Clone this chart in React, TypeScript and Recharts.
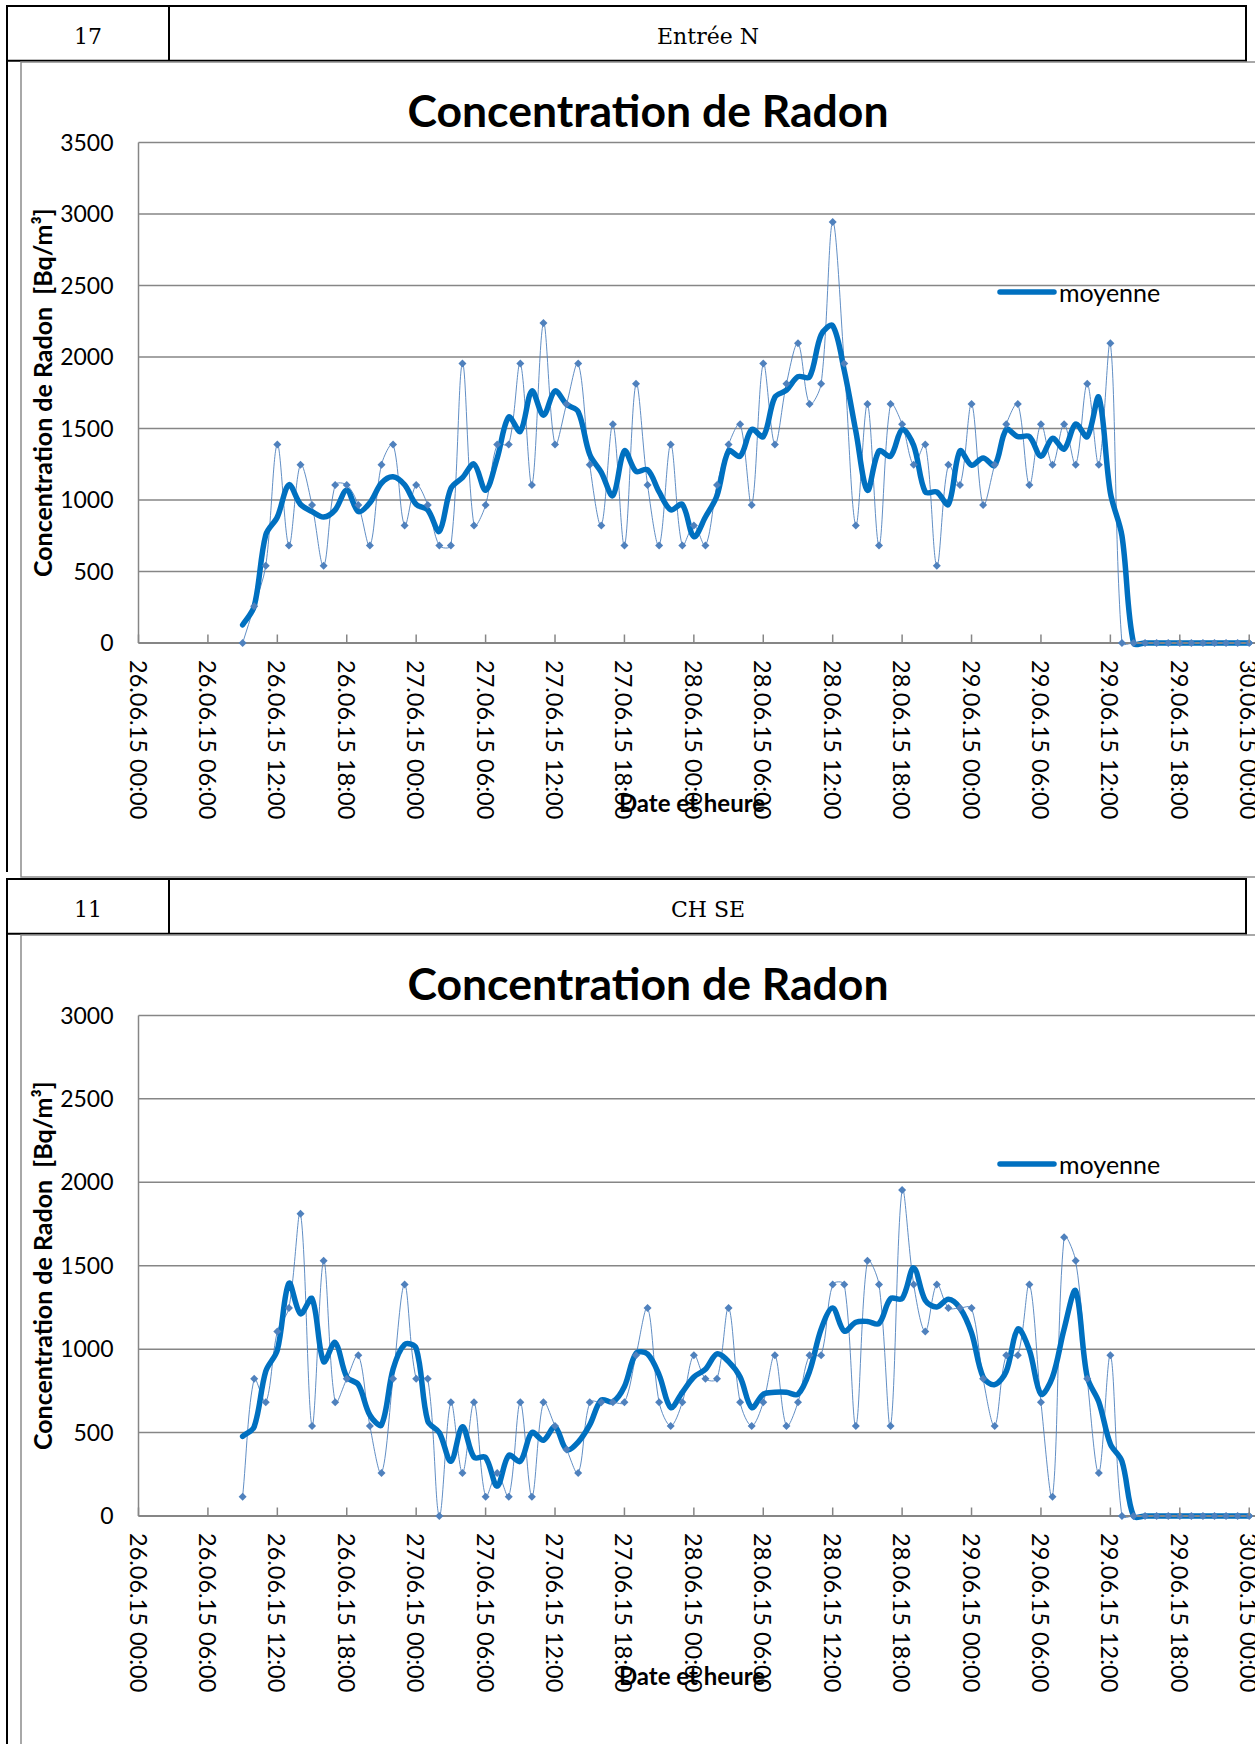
import React from 'react';
import { LineChart, Line, XAxis, YAxis, CartesianGrid, Legend } from 'recharts';

// hourly readings, first value at 26.06.15 09:00
const START_HOUR = 9;

const timeTicks = [0, 6, 12, 18, 24, 30, 36, 42, 48, 54, 60, 66, 72, 78, 84, 90, 96];
const timeLabels = [
  '26.06.15 00:00', '26.06.15 06:00', '26.06.15 12:00', '26.06.15 18:00',
  '27.06.15 00:00', '27.06.15 06:00', '27.06.15 12:00', '27.06.15 18:00',
  '28.06.15 00:00', '28.06.15 06:00', '28.06.15 12:00', '28.06.15 18:00',
  '29.06.15 00:00', '29.06.15 06:00', '29.06.15 12:00', '29.06.15 18:00',
  '30.06.15 00:00',
];

const entreeTicks = [0, 500, 1000, 1500, 2000, 2500, 3000, 3500];
const chseTicks = [0, 500, 1000, 1500, 2000, 2500, 3000];

const entreeRaw = [
  0, 257, 540, 1388, 681, 1247, 964, 540, 1105, 1105, 964, 681, 1247, 1388, 822, 1105,
  964, 681, 681, 1954, 822, 964, 1388, 1388, 1954, 1105, 2237, 1388, 1671, 1954, 1247, 822,
  1530, 681, 1812, 1105, 681, 1388, 681, 822, 681, 1105, 1388, 1530, 964, 1954, 1388, 1812,
  2095, 1671, 1812, 2944, 1954, 822, 1671, 681, 1671, 1530, 1247, 1388, 540, 1247, 1105, 1671,
  964, 1247, 1530, 1671, 1105, 1530, 1247, 1530, 1247, 1812, 1247, 2095,
  0, 0, 0, 0, 0, 0, 0, 0, 0, 0, 0, 0,
];
const entreeMoyenne = [
  127, 257, 756, 881, 1106, 969, 919, 881, 931, 1068, 919, 981, 1118, 1163, 1106, 969,
  931, 781, 1081, 1156, 1251, 1068, 1293, 1580, 1480, 1762, 1593, 1762, 1668, 1618, 1318, 1193,
  1031, 1343, 1200, 1211, 1056, 931, 969, 744, 881, 1031, 1343, 1306, 1493, 1443, 1718, 1768,
  1862, 1860, 2155, 2218, 1905, 1480, 1068, 1343, 1306, 1493, 1381, 1056, 1056, 969, 1343, 1243,
  1293, 1243, 1493, 1443, 1443, 1306, 1431, 1356, 1531, 1443, 1718, 1050, 750,
  0, 0, 0, 0, 0, 0, 0, 0, 0, 0, 0,
];

const chseRaw = [
  116, 822, 681, 1105, 1247, 1812, 540, 1530, 681, 822, 964, 540, 257, 822, 1388, 822,
  822, 0, 681, 257, 681, 116, 257, 116, 681, 116, 681, 540, 398, 257, 681, 681,
  681, 681, 964, 1247, 681, 540, 681, 964, 822, 822, 1247, 681, 540, 681, 964, 540,
  681, 964, 964, 1388, 1388, 540, 1530, 1388, 540, 1954, 1388, 1105, 1388, 1247, 1247, 1247,
  822, 540, 964, 964, 1388, 681, 116, 1671, 1530, 822, 257, 964,
  0, 0, 0, 0, 0, 0, 0, 0, 0, 0, 0, 0,
];
const chseMoyenne = [
  477, 535, 867, 994, 1395, 1212, 1303, 925, 1040, 833, 787, 604, 546, 879, 1028, 1005,
  569, 500, 328, 535, 351, 351, 179, 363, 328, 500, 454, 535, 397, 443, 546, 695,
  684, 776, 975, 971, 845, 650, 741, 833, 879, 971, 925, 833, 650, 730, 741, 741,
  730, 867, 1120, 1246, 1108, 1161, 1166, 1154, 1303, 1303, 1487, 1292, 1253, 1299, 1246, 1097,
  833, 787, 867, 1120, 994, 730, 833, 1120, 1349, 833, 684, 431, 328,
  0, 0, 0, 0, 0, 0, 0, 0, 0, 0, 0,
];

const GRID = '#868686';
const RAW = '#4F81BD';
const AVG = '#0070C0';
const SANS = 'Lato, "Open Sans", sans-serif';
const SERIF = '"DejaVu Serif", "Liberation Serif", serif';

// Excel style smoothed line: tangents weighted by segment length, so flat runs stay flat
const excelSmooth = (context: any) => {
  let pts: number[][] = [];
  const dist = (a: number[], b: number[]) => Math.hypot(b[0] - a[0], b[1] - a[1]);
  return {
    areaStart() {},
    areaEnd() {},
    lineStart() {
      pts = [];
    },
    point(x: number, y: number) {
      pts.push([+x, +y]);
    },
    lineEnd() {
      const n = pts.length;
      if (!n) return;
      context.moveTo(pts[0][0], pts[0][1]);
      for (let i = 0; i < n - 1; i++) {
        const p0 = pts[i > 0 ? i - 1 : i];
        const p1 = pts[i];
        const p2 = pts[i + 1];
        const p3 = pts[i + 2 < n ? i + 2 : i + 1];
        const d01 = dist(p0, p1);
        const d12 = dist(p1, p2);
        const d23 = dist(p2, p3);
        const f1 = d01 + d12 > 0 ? d12 / (d01 + d12) / 3 : 0;
        const f2 = d12 + d23 > 0 ? d12 / (d12 + d23) / 3 : 0;
        context.bezierCurveTo(
          p1[0] + (p2[0] - p0[0]) * f1, p1[1] + (p2[1] - p0[1]) * f1,
          p2[0] - (p3[0] - p1[0]) * f2, p2[1] - (p3[1] - p1[1]) * f2,
          p2[0], p2[1]
        );
      }
    },
  };
};

const Diamond = (props: any) => {
  const { cx, cy, index } = props;
  if (cx == null || cy == null) return <g key={index} />;
  const r = 4;
  return (
    <path
      key={index}
      d={`M${cx},${cy - r}L${cx + r},${cy}L${cx},${cy + r}L${cx - r},${cy}Z`}
      fill={RAW}
    />
  );
};

const TimeTick = (props: any) => {
  const { x, y, payload } = props;
  const label = timeLabels[timeTicks.indexOf(payload.value)];
  return (
    <g>
      <line x1={x} y1={y} x2={x} y2={y - 8.5} stroke={GRID} strokeWidth={1.5} />
      <text
        transform={`translate(${x},${y + 17}) rotate(90)`}
        textAnchor="start"
        dominantBaseline="central"
        fontFamily={SANS}
        fontSize={23.5}
        fill="#000"
      >
        {label}
      </text>
    </g>
  );
};

const renderLegend = (props: any) => (
  <div style={{ display: 'flex', alignItems: 'center', fontFamily: SANS, fontSize: 25, color: '#000' }}>
    {(props.payload || [])
      .filter((e: any) => e.type !== 'none' && e.dataKey !== 'raw')
      .map((e: any) => (
        <div key={e.value} style={{ display: 'flex', alignItems: 'center' }}>
          <svg width={60} height={10}>
            <line x1={3} y1={5} x2={57} y2={5} stroke={e.color} strokeWidth={5.5} strokeLinecap="round" />
          </svg>
          <span style={{ marginLeft: 2 }}>{e.value}</span>
        </div>
      ))}
  </div>
);

interface PanelProps {
  top: number;
  num: string;
  name: string;
  raw: number[];
  avg: number[];
  yTicks: number[];
}

const Panel = ({ top, num, name, raw, avg, yTicks }: PanelProps) => {
  const rows = raw.map((v, i) => ({ hour: START_HOUR + i, raw: v, moyenne: avg[i] }));
  const yMax = yTicks[yTicks.length - 1];

  return (
    <div style={{ position: 'absolute', left: 0, top, width: 1255, height: 872 }}>
      <div style={{ position: 'absolute', left: 0, top: 100 }}>
        <LineChart width={1256} height={743} data={rows} margin={{ top: 42.4, right: 1, left: 0, bottom: 0 }}>
          <CartesianGrid vertical={false} stroke={GRID} strokeWidth={1.5} />
          <XAxis
            dataKey="hour"
            type="number"
            domain={[0, 96.5]}
            ticks={timeTicks}
            interval={0}
            allowDataOverflow
            height={200}
            tickSize={0}
            tickMargin={0}
            tickLine={false}
            axisLine={{ stroke: GRID, strokeWidth: 2 }}
            tick={<TimeTick />}
          />
          <YAxis
            type="number"
            domain={[0, yMax]}
            ticks={yTicks}
            interval={0}
            width={138.5}
            tickSize={0}
            tickMargin={25}
            tickLine={false}
            axisLine={{ stroke: GRID, strokeWidth: 1.5 }}
            tick={{ fontFamily: SANS, fontSize: 23, fill: '#000' }}
          />
          <Legend
            layout="horizontal"
            verticalAlign="middle"
            align="center"
            wrapperStyle={{ left: 997, top: 176.5, width: 200, height: 30 }}
            content={renderLegend}
          />
          <Line
            type={excelSmooth as any}
            dataKey="raw"
            legendType="none"
            stroke={RAW}
            strokeWidth={0.9}
            dot={<Diamond />}
            activeDot={false}
            isAnimationActive={false}
          />
          <Line
            type={excelSmooth as any}
            dataKey="moyenne"
            name="moyenne"
            stroke={AVG}
            strokeWidth={5.5}
            strokeLinecap="round"
            strokeLinejoin="round"
            dot={false}
            activeDot={false}
            isAnimationActive={false}
          />
        </LineChart>
      </div>

      <svg
        width={1255}
        height={872}
        style={{ position: 'absolute', left: 0, top: 0, overflow: 'visible', pointerEvents: 'none' }}
      >
        {/* table header row */}
        <line x1={6} y1={6} x2={1247} y2={6} stroke="#000" strokeWidth={2} />
        <line x1={6} y1={60.7} x2={1247} y2={60.7} stroke="#000" strokeWidth={2} />
        <line x1={7} y1={5} x2={7} y2={872} stroke="#000" strokeWidth={2} />
        <line x1={169} y1={6} x2={169} y2={60.7} stroke="#000" strokeWidth={2} />
        <line x1={1246} y1={5} x2={1246} y2={61.7} stroke="#000" strokeWidth={2} />
        <text x={88} y={43.7} textAnchor="middle" fontFamily={SERIF} fontSize={22} fill="#000">
          {num}
        </text>
        <text x={708} y={43.7} textAnchor="middle" fontFamily={SERIF} fontSize={22} fill="#000">
          {name}
        </text>

        {/* chart frame */}
        <rect x={21} y={62} width={1300} height={815} fill="none" stroke="#8c8c8c" strokeWidth={1.5} />

        {/* titles */}
        <text x={648} y={126.7} textAnchor="middle" fontFamily={SANS} fontWeight={700} fontSize={44.5} fill="#000">
          Concentration de Radon
        </text>
        <text
          transform="translate(52,392.7) rotate(-90)"
          textAnchor="middle"
          fontFamily={SANS}
          fontWeight={700}
          fontSize={25}
          fill="#000"
          style={{ whiteSpace: 'pre' }}
        >
          {'Concentration de Radon  [Bq/m³]'}
        </text>
        <text x={692} y={812} textAnchor="middle" fontFamily={SANS} fontWeight={700} fontSize={24} fill="#000">
          Date et heure
        </text>
      </svg>
    </div>
  );
};

export default function App() {
  return (
    <div
      style={{
        position: 'absolute',
        left: 0,
        top: 0,
        width: 1255,
        height: 1744,
        overflow: 'hidden',
        background: '#fff',
      }}
    >
      <Panel top={0} num="17" name="Entrée N" raw={entreeRaw} avg={entreeMoyenne} yTicks={entreeTicks} />
      <Panel top={872.5} num="11" name="CH SE" raw={chseRaw} avg={chseMoyenne} yTicks={chseTicks} />
    </div>
  );
}
